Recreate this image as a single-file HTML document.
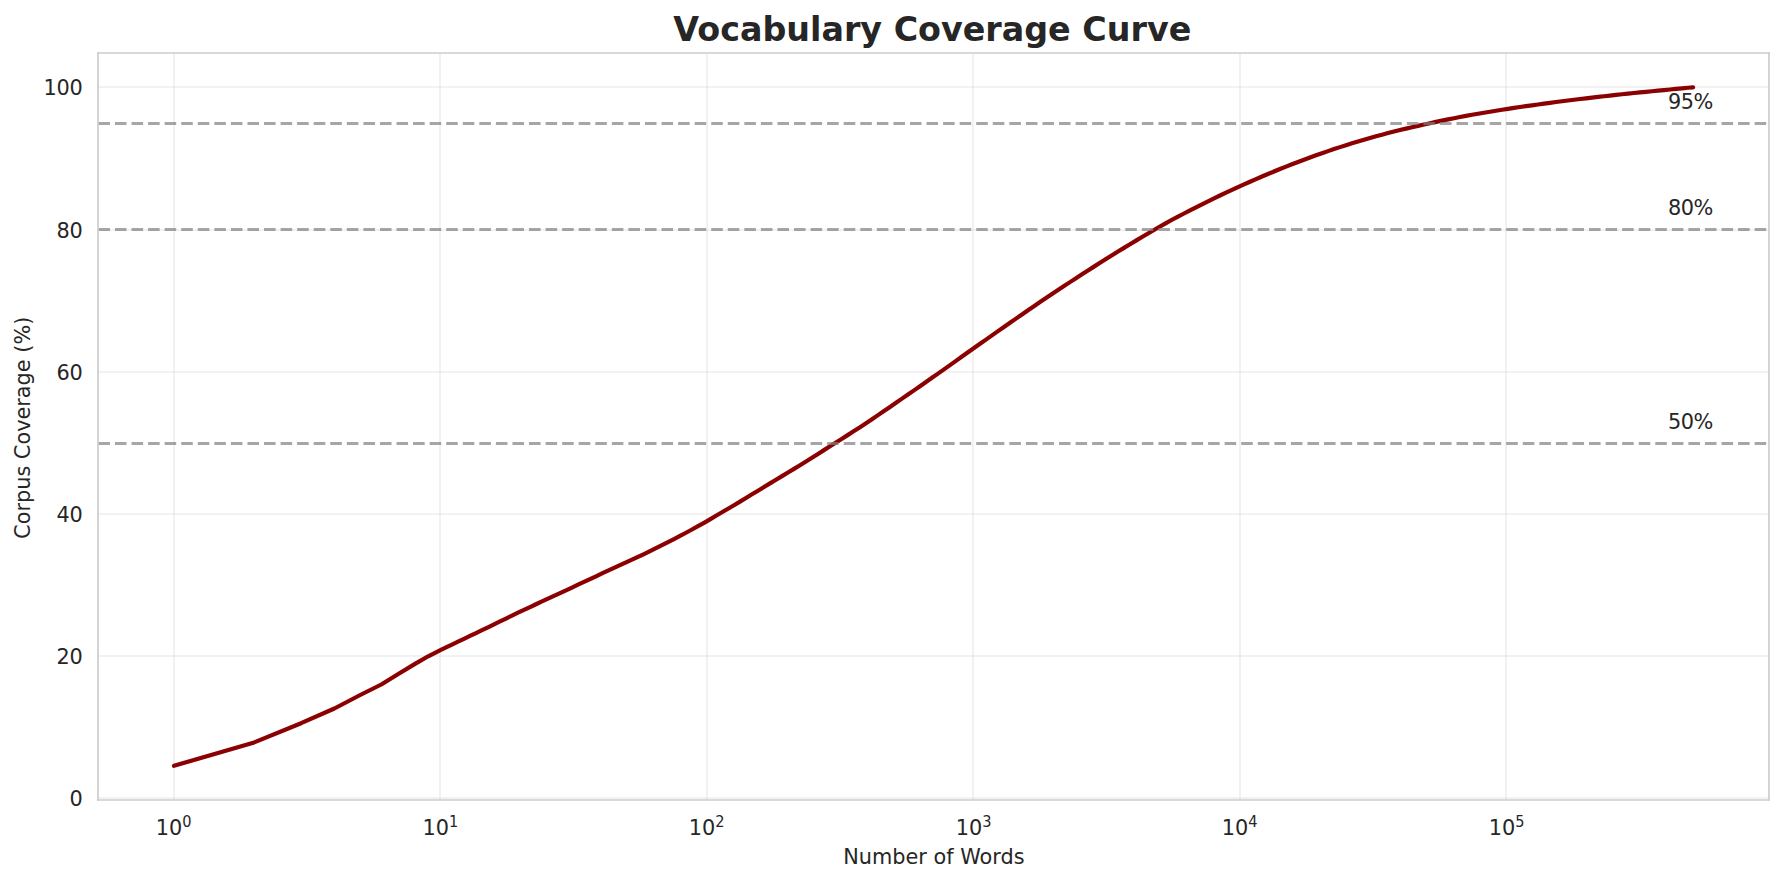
<!DOCTYPE html>
<html lang="en"><head><meta charset="utf-8"><title>Vocabulary Coverage Curve</title>
<style>html,body{margin:0;padding:0;background:#fff;overflow:hidden}svg{display:block}text{font-family:"DejaVu Sans","Liberation Sans",sans-serif;fill:#262626}</style></head><body>
<svg width="1784" height="883" viewBox="0 0 1784 883">
<rect width="1784" height="883" fill="#ffffff"/>
<g stroke="#cccccc" stroke-opacity="0.34" stroke-width="1.667" fill="none">
<line x1="174" y1="53" x2="174" y2="800"/>
<line x1="440" y1="53" x2="440" y2="800"/>
<line x1="707" y1="53" x2="707" y2="800"/>
<line x1="973" y1="53" x2="973" y2="800"/>
<line x1="1240" y1="53" x2="1240" y2="800"/>
<line x1="1506" y1="53" x2="1506" y2="800"/>
<line x1="98" y1="798" x2="1769" y2="798"/>
<line x1="98" y1="656" x2="1769" y2="656"/>
<line x1="98" y1="514" x2="1769" y2="514"/>
<line x1="98" y1="372" x2="1769" y2="372"/>
<line x1="98" y1="230" x2="1769" y2="230"/>
<line x1="98" y1="87" x2="1769" y2="87"/>
</g>
<path d="M174.0 765.80 L254.2 742.40 L301.1 723.20 L334.4 708.50 L360.2 695.00 L381.3 684.50 L399.1 673.40 L414.6 664.11 L428.2 656.27 L440.4 650.21 L446.0 647.49 L452.0 644.61 L458.0 641.74 L464.0 638.84 L470.0 635.97 L476.0 633.11 L482.0 630.23 L488.0 627.28 L494.0 624.34 L500.0 621.42 L506.0 618.51 L512.0 615.61 L518.0 612.72 L524.0 609.84 L530.0 607.01 L536.0 604.25 L542.0 601.48 L548.0 598.68 L554.0 595.89 L560.0 593.10 L566.0 590.31 L572.0 587.52 L578.0 584.72 L584.0 581.91 L590.0 579.09 L596.0 576.27 L602.0 573.43 L608.0 570.66 L614.0 567.93 L620.0 565.20 L626.0 562.44 L632.0 559.68 L638.0 556.89 L644.0 554.08 L650.0 551.15 L656.0 548.18 L662.0 545.19 L668.0 542.17 L674.0 539.13 L680.0 535.96 L686.0 532.72 L692.0 529.46 L698.0 526.16 L704.0 522.83 L710.0 519.37 L716.0 515.77 L722.0 512.24 L728.0 508.74 L734.0 505.20 L740.0 501.61 L746.0 497.98 L752.0 494.32 L758.0 490.69 L764.0 487.01 L770.0 483.35 L776.0 479.74 L782.0 476.15 L788.0 472.52 L794.0 468.86 L800.0 465.17 L806.0 461.44 L812.0 457.70 L818.0 453.92 L824.0 450.12 L830.0 446.29 L836.0 442.48 L842.0 438.69 L848.0 434.87 L854.0 431.04 L860.0 427.18 L866.0 423.24 L872.0 419.23 L878.0 415.14 L884.0 411.03 L890.0 406.92 L896.0 402.79 L902.0 398.65 L908.0 394.50 L914.0 390.35 L920.0 386.18 L926.0 382.01 L932.0 377.81 L938.0 373.59 L944.0 369.37 L950.0 365.14 L956.0 360.84 L962.0 356.56 L968.0 352.29 L974.0 348.05 L980.0 343.81 L986.0 339.58 L992.0 335.36 L998.0 331.14 L1004.0 326.95 L1010.0 322.77 L1016.0 318.60 L1022.0 314.45 L1028.0 310.31 L1034.0 306.18 L1040.0 302.08 L1046.0 298.03 L1052.0 294.02 L1058.0 290.04 L1064.0 286.07 L1070.0 282.13 L1076.0 278.21 L1082.0 274.32 L1088.0 270.45 L1094.0 266.62 L1100.0 262.81 L1106.0 259.03 L1112.0 255.29 L1118.0 251.58 L1124.0 247.90 L1130.0 244.26 L1136.0 240.65 L1142.0 237.06 L1148.0 233.52 L1154.0 230.01 L1160.0 226.55 L1166.0 223.12 L1172.0 219.80 L1178.0 216.61 L1184.0 213.48 L1190.0 210.39 L1196.0 207.33 L1202.0 204.31 L1208.0 201.32 L1214.0 198.38 L1220.0 195.50 L1226.0 192.66 L1232.0 189.88 L1238.0 187.15 L1244.0 184.45 L1250.0 181.76 L1256.0 179.11 L1262.0 176.52 L1268.0 173.97 L1274.0 171.48 L1280.0 169.03 L1286.0 166.63 L1292.0 164.29 L1298.0 161.99 L1304.0 159.72 L1310.0 157.50 L1316.0 155.33 L1322.0 153.20 L1328.0 151.12 L1334.0 149.09 L1340.0 147.11 L1346.0 145.17 L1352.0 143.29 L1358.0 141.45 L1364.0 139.68 L1370.0 137.97 L1376.0 136.31 L1382.0 134.69 L1388.0 133.11 L1394.0 131.58 L1400.0 130.09 L1406.0 128.64 L1412.0 127.23 L1418.0 125.85 L1424.0 124.50 L1430.0 123.17 L1436.0 121.88 L1442.0 120.62 L1448.0 119.40 L1454.0 118.21 L1460.0 117.05 L1466.0 115.92 L1472.0 114.82 L1478.0 113.76 L1484.0 112.72 L1490.0 111.71 L1496.0 110.72 L1502.0 109.76 L1508.0 108.83 L1514.0 107.92 L1520.0 107.03 L1526.0 106.16 L1532.0 105.32 L1538.0 104.50 L1544.0 103.67 L1550.0 102.85 L1556.0 102.05 L1562.0 101.27 L1568.0 100.51 L1574.0 99.76 L1580.0 99.03 L1586.0 98.31 L1592.0 97.61 L1598.0 96.92 L1604.0 96.25 L1610.0 95.58 L1616.0 94.93 L1622.0 94.29 L1628.0 93.66 L1634.0 93.04 L1640.0 92.43 L1646.0 91.83 L1652.0 91.24 L1658.0 90.65 L1664.0 90.07 L1670.0 89.49 L1676.0 88.92 L1682.0 88.35 L1688.0 87.79 L1693.1 87.35" fill="none" stroke="#8b0000" stroke-width="4.167" stroke-linecap="round" stroke-linejoin="round"/>
<g stroke="#808080" stroke-opacity="0.7" stroke-width="3.125" stroke-dasharray="11.5625 5" fill="none">
<line x1="98.4" y1="123.5" x2="1769" y2="123.5"/>
<line x1="98.4" y1="229.5" x2="1769" y2="229.5"/>
<line x1="98.4" y1="443.5" x2="1769" y2="443.5"/>
</g>
<g stroke="#cccccc" stroke-width="1.667" fill="none" stroke-linecap="square"><line x1="98" y1="53" x2="98" y2="800"/><line x1="1769" y1="53" x2="1769" y2="800"/><line x1="98" y1="53" x2="1769" y2="53"/><line x1="98" y1="800" x2="1769" y2="800"/></g>
<g font-size="20.833" text-anchor="end" letter-spacing="-0.3">
<text x="82.4" y="805.75">0</text>
<text x="82.4" y="663.75">20</text>
<text x="82.4" y="521.75">40</text>
<text x="82.4" y="379.75">60</text>
<text x="82.4" y="237.75">80</text>
<text x="82.4" y="94.75">100</text>
</g>
<g font-size="20.833">
<text x="155.8" y="834.8">10</text>
<text transform="translate(182.3 826.9) scale(1 1.12)" font-size="14.583">0</text>
<text x="422.6" y="834.8">10</text>
<text transform="translate(449.1 826.9) scale(1 1.12)" font-size="14.583">1</text>
<text x="688.8" y="834.8">10</text>
<text transform="translate(715.3 826.9) scale(1 1.12)" font-size="14.583">2</text>
<text x="955.7" y="834.8">10</text>
<text transform="translate(982.2 826.9) scale(1 1.12)" font-size="14.583">3</text>
<text x="1221.8" y="834.8">10</text>
<text transform="translate(1248.3 826.9) scale(1 1.12)" font-size="14.583">4</text>
<text x="1488.7" y="834.8">10</text>
<text transform="translate(1515.2 826.9) scale(1 1.12)" font-size="14.583">5</text>
</g>
<g font-size="20.833" letter-spacing="-0.5">
<text x="1668" y="109.0">95%</text>
<text x="1668" y="215.0">80%</text>
<text x="1668" y="429.0">50%</text>
</g>
<text x="933.9" y="863.6" font-size="20.833" text-anchor="middle">Number of Words</text>
<text transform="translate(30 427.8) rotate(-90)" font-size="20.833" text-anchor="middle">Corpus Coverage (%)</text>
<text x="932.3" y="40.7" font-size="33.333" font-weight="bold" text-anchor="middle">Vocabulary Coverage Curve</text>
</svg></body></html>
